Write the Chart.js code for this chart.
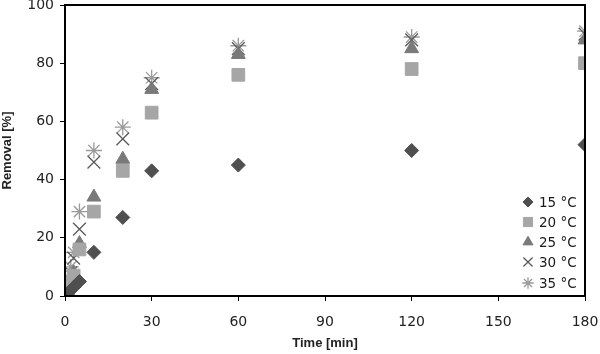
<!DOCTYPE html>
<html>
<head>
<meta charset="utf-8">
<script src="https://cdn.jsdelivr.net/npm/chart.js@4.4.1/dist/chart.umd.min.js"></script>
<style>
html,body{margin:0;padding:0;background:#fff;}
#wrap{position:relative;width:600px;height:354px;}
</style>
</head>
<body>
<div id="wrap"><canvas id="c" width="600" height="354"></canvas></div>
<script>
const times = [0, 1, 2, 3, 5, 10, 20, 30, 60, 120, 180];
const seriesNames = ['15 °C', '20 °C', '25 °C', '30 °C', '35 °C'];
const r15 = [0, 1, 2, 3, 5, 15, 27, 43, 45, 50, 52];
const r20 = [0, 2, 5, 7, 16, 29, 43, 63, 76, 78, 80];
const r25 = [0, 2, 5, 8, 18, 34, 47, 71, 83, 85, 88];
const r30 = [0, 3, 8, 13, 23, 46, 54, 73, 85, 88, 90];
const r35 = [0, 5, 10, 15, 29, 50, 58, 75, 86, 89, 91];
const xTicks = [0, 30, 60, 90, 120, 150, 180];
const yTicks = [0, 20, 40, 60, 80, 100];

const styles = [
  {pointStyle:'rectRot', radius:7, bg:'#4f4f4f', border:'#4f4f4f', bw:1},
  {pointStyle:'rect', radius:9, bg:'#a6a6a6', border:'#a6a6a6', bw:1},
  {pointStyle:'triangle', radius:8, bg:'#7a7a7a', border:'#7a7a7a', bw:1},
  {pointStyle:'crossRot', radius:9, bg:'#5a5a5a', border:'#5a5a5a', bw:1.3},
  {pointStyle:'star', radius:8, bg:'#9a9a9a', border:'#9a9a9a', bw:1.3}
];
const allSeries = [r15, r20, r25, r30, r35];

const datasets = allSeries.map((vals, i) => ({
  label: seriesNames[i],
  data: times.map((t, j) => ({x: t, y: vals[j]})),
  pointStyle: styles[i].pointStyle,
  pointRadius: styles[i].radius,
  pointHoverRadius: styles[i].radius,
  backgroundColor: styles[i].bg,
  borderColor: styles[i].border,
  pointBorderWidth: styles[i].bw,
  showLine: false
}));

const FONT = 'DejaVu Sans';
const PLOT_TOP = 5;

const framePlugin = {
  id: 'frame',
  afterLayout(chart) {
    const y = chart.scales.y;
    if (y.top !== PLOT_TOP) {
      y.top = PLOT_TOP;
      y.height = y.bottom - PLOT_TOP;
      y.configure();
      chart.chartArea.top = PLOT_TOP;
      chart.chartArea.height = chart.chartArea.bottom - PLOT_TOP;
    }
  },
  afterDraw(chart) {
    const {ctx, chartArea: a} = chart;
    ctx.save();
    ctx.strokeStyle = '#000';
    ctx.lineWidth = 2;
    ctx.strokeRect(a.left, a.top, a.right - a.left, a.bottom - a.top);
    const lx = 528, tx = 539;
    const ys = [202, 222, 242, 262, 283];
    ctx.font = '13.5px "' + FONT + '"';
    ctx.textBaseline = 'middle';
    ctx.textAlign = 'left';
    for (let i = 0; i < seriesNames.length; i++) {
      const s = styles[i];
      ctx.fillStyle = s.bg;
      ctx.strokeStyle = s.border;
      ctx.lineWidth = s.bw;
      Chart.helpers.drawPoint(ctx, {pointStyle: s.pointStyle, radius: s.radius * 0.72, rotation: 0, borderWidth: s.bw}, lx, ys[i]);
      ctx.fillStyle = '#1a1a1a';
      ctx.fillText(seriesNames[i], tx, ys[i] + 1);
    }
    ctx.restore();
  }
};

new Chart(document.getElementById('c'), {
  type: 'scatter',
  data: {datasets},
  options: {
    responsive: false,
    animation: false,
    layout: {padding: {top: 0, right: 15, left: 0, bottom: 0}},
    plugins: {legend: {display: false}, tooltip: {enabled: false}},
    scales: {
      x: {
        type: 'linear', min: 0, max: 180,
        afterBuildTicks: s => { s.ticks = xTicks.map(v => ({value: v})); },
        afterFit: s => { s.height = 58; s.paddingLeft = 0; s.paddingRight = 0; },
        grid: {drawOnChartArea: false, drawTicks: true, tickLength: 5, color: '#000', lineWidth: 1},
        border: {display: true, color: '#000', width: 2},
        ticks: {color: '#222', font: {family: FONT, size: 14}, padding: 13, maxRotation: 0},
        title: {display: true, text: 'Time [min]', color: '#222', font: {family: 'Liberation Sans', size: 13, weight: 'bold'}, padding: {top: 2, bottom: 3}}
      },
      y: {
        type: 'linear', min: 0, max: 100,
        afterBuildTicks: s => { s.ticks = yTicks.map(v => ({value: v})); },
        afterFit: s => { s.width = 65; s.paddingTop = 0; s.paddingBottom = 0; },
        grid: {drawOnChartArea: false, drawTicks: true, tickLength: 5, color: '#000', lineWidth: 1},
        border: {display: true, color: '#000', width: 2},
        ticks: {color: '#222', font: {family: FONT, size: 14}, padding: 6},
        title: {display: true, text: 'Removal [%]', color: '#222', font: {family: 'Liberation Sans', size: 13, weight: 'bold'}, padding: {top: 0, bottom: 4}}
      }
    }
  },
  plugins: [framePlugin]
});
</script>
</body>
</html>
